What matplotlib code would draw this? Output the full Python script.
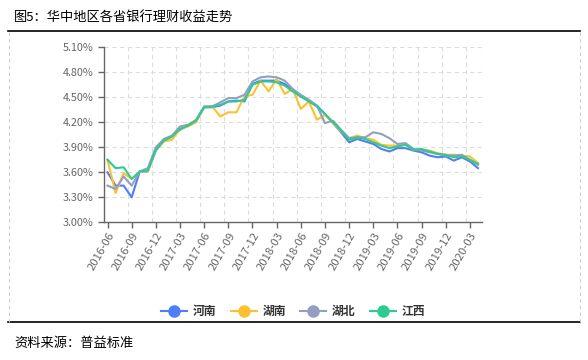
import numpy as np
import matplotlib
matplotlib.use("Agg")
import matplotlib.pyplot as plt
from matplotlib.lines import Line2D

plt.rcParams['font.family'] = ['Noto Sans CJK SC', 'DejaVu Sans']

# monthly data, 2016-06 .. 2020-04
months = [f"{y}-{m:02d}" for y in range(2016, 2021) for m in range(1, 13)]
months = months[months.index("2016-06"):months.index("2020-04") + 1]

henan = [3.60, 3.44, 3.44, 3.30, 3.61, 3.61, 3.86, 3.98, 4.03, 4.11, 4.16, 4.21,
         4.38, 4.38, 4.40, 4.45, 4.46, 4.45, 4.66, 4.70, 4.70, 4.70, 4.66, 4.58,
         4.51, 4.46, 4.40, 4.30, 4.19, 4.08, 3.96, 4.00, 3.97, 3.94, 3.88, 3.85,
         3.89, 3.89, 3.86, 3.84, 3.80, 3.78, 3.79, 3.74, 3.78, 3.73, 3.65]
hunan = [3.75, 3.35, 3.59, 3.52, 3.61, 3.61, 3.87, 3.97, 3.99, 4.12, 4.15, 4.20,
         4.39, 4.39, 4.27, 4.32, 4.32, 4.51, 4.53, 4.70, 4.57, 4.72, 4.54, 4.60,
         4.36, 4.45, 4.23, 4.29, 4.19, 4.09, 4.01, 4.04, 4.01, 3.99, 3.93, 3.92,
         3.92, 3.93, 3.87, 3.87, 3.86, 3.83, 3.81, 3.81, 3.80, 3.79, 3.71]
hubei = [3.44, 3.40, 3.55, 3.44, 3.61, 3.65, 3.90, 4.00, 4.04, 4.15, 4.17, 4.23,
         4.39, 4.39, 4.44, 4.49, 4.49, 4.53, 4.69, 4.74, 4.75, 4.74, 4.70, 4.60,
         4.53, 4.47, 4.40, 4.19, 4.22, 4.11, 4.01, 4.02, 4.02, 4.08, 4.06, 4.01,
         3.94, 3.95, 3.88, 3.86, 3.84, 3.82, 3.80, 3.80, 3.81, 3.75, 3.69]
jiangxi = [3.75, 3.65, 3.66, 3.52, 3.61, 3.62, 3.87, 3.98, 4.03, 4.12, 4.16, 4.22,
           4.38, 4.39, 4.41, 4.45, 4.45, 4.47, 4.65, 4.69, 4.69, 4.68, 4.64, 4.57,
           4.51, 4.45, 4.39, 4.30, 4.20, 4.10, 3.99, 4.02, 4.00, 3.96, 3.92, 3.89,
           3.91, 3.93, 3.87, 3.88, 3.85, 3.82, 3.81, 3.78, 3.79, 3.75, 3.70]

names = ["河南", "湖南", "湖北", "江西"]
series = [henan, hunan, hubei, jiangxi]
colors = ["#4f7ef8", "#fdc02f", "#929fc3", "#2dcb91"]
yticks = [3.00, 3.30, 3.60, 3.90, 4.20, 4.50, 4.80, 5.10]

fig = plt.figure(figsize=(5.88, 3.6), dpi=100)
ax = fig.add_axes([103.5 / 588, 1 - 222.3 / 360, (482 - 103.5) / 588, 175 / 360])

x = np.arange(len(months))
for vals, c, n in zip(series, colors, names):
    ax.plot(x, vals, color=c, lw=1.5, label=n)

ax.set_xlim(-0.5, len(months) - 0.5)
ax.set_ylim(3.0, 5.1)
ax.set_yticks(yticks)
ax.set_yticklabels([f"{v:.2f}%" for v in yticks])
ticks = x[::3]
ax.set_xticks(ticks)
ax.set_xticklabels([months[i] for i in ticks], rotation=60, ha='right',
                   rotation_mode='anchor')
ax.tick_params(axis='both', colors='#666666', labelsize=7.8, length=4, width=1)
ax.tick_params(axis='x', labelsize=8.2, pad=2)

# grid: dashed, vertical lines on category boundaries
for v in yticks[1:]:
    ax.axhline(v, color='#dddddd', lw=0.8, ls=(0, (4, 3)), zorder=0)
for i in list(ticks[1:]) + [len(months)]:
    ax.axvline(i - 0.5, color='#dddddd', lw=0.8, ls=(0, (4, 3)), zorder=0)

for s in ['top', 'right']:
    ax.spines[s].set_visible(False)
for s in ['left', 'bottom']:
    ax.spines[s].set_color('#666666')
    ax.spines[s].set_linewidth(1)

handles = [Line2D([], [], color=c, lw=1.5, marker='o', markersize=8, alpha=1)
           for c in colors]
fig.legend(handles, names, loc='center', bbox_to_anchor=(293 / 588, 1 - 311.5 / 360),
           ncol=4, frameon=False, handlelength=2.2, handletextpad=0.5,
           columnspacing=1.2, prop={'size': 8.5, 'weight': 'bold'})
for t in fig.legends[0].get_texts():
    t.set_color('#333333')

# frame rules
fig.add_artist(Line2D([8 / 588, 580 / 588], [1 - 31 / 360] * 2, color='black', lw=1.2))
fig.add_artist(Line2D([8 / 588, 580 / 588], [1 - 322 / 360] * 2, color='black', lw=1.2))
for xx in [8.5 / 588, 579.5 / 588]:
    fig.add_artist(Line2D([xx, xx], [1 - 322 / 360, 1 - 31 / 360], color='#cccccc',
                          lw=0.8, ls=(0, (3, 3))))

fig.text(14 / 588, 1 - 18 / 360, "图5：华中地区各省银行理财收益走势", fontsize=9.5,
         va='center', ha='left', color='black')
fig.text(14 / 588, 1 - 343 / 360, "资料来源：普益标准", fontsize=9.5,
         va='center', ha='left', color='black')

fig.savefig("out.png", dpi=100)
